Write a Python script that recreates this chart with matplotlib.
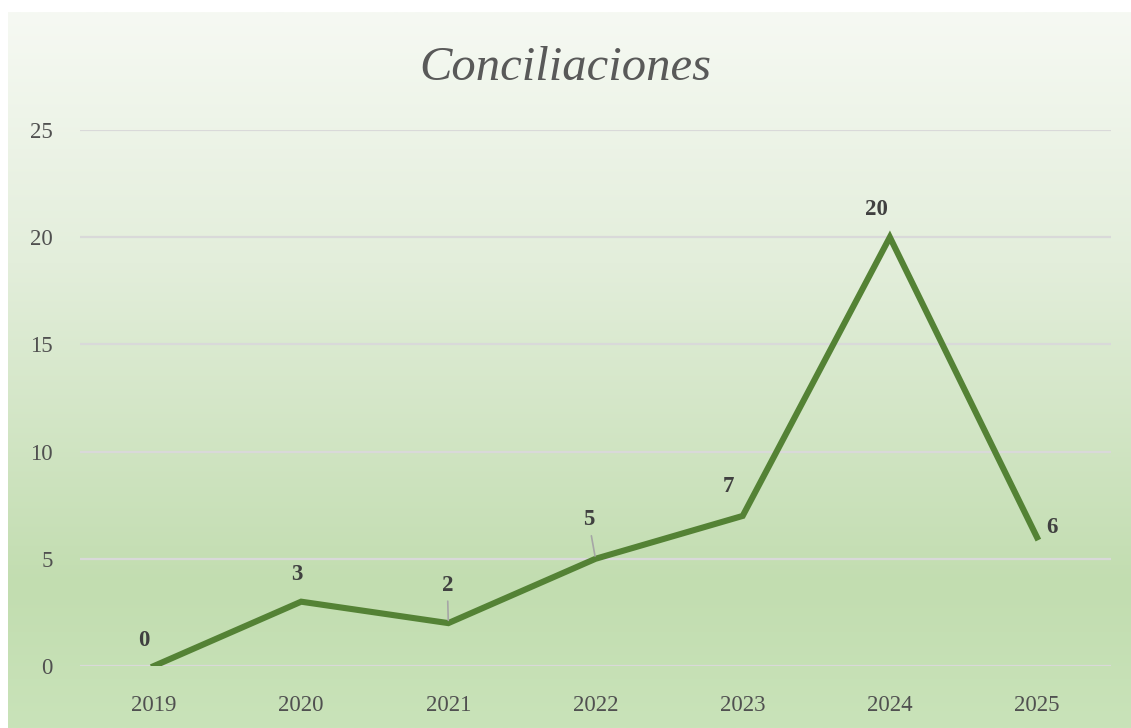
import numpy as np
from matplotlib import pyplot as plt
from matplotlib.colors import LinearSegmentedColormap

# Data
years = ["2019", "2020", "2021", "2022", "2023", "2024", "2025"]
values = [0, 3, 2, 5, 7, 20, 6]
# label offsets in pixels (dx, dy) relative to each point
label_offsets = [(-10, 26), (-4, 27), (-1, 38), (-7, 39), (-14, 29), (-13, 28), (15, 10)]
leader = [False, False, True, True, False, False, False]

W, H = 1131, 728
fig = plt.figure(figsize=(W / 100, H / 100), dpi=100)
fig.patch.set_facecolor("white")

# gradient background of chart area
bg = fig.add_axes([8 / W, 0, 1 - 8 / W, 1 - 12 / H])
cmap = LinearSegmentedColormap.from_list(
    "g", [(0.0, "#f6f9f3"), (0.35, "#e3eedb"), (0.8, "#c2ddb0"), (1.0, "#c9e3b9")])
grad = np.linspace(0, 1, 256).reshape(-1, 1)
bg.imshow(grad, aspect="auto", cmap=cmap, extent=[0, 1, 1, 0])
bg.set_axis_off()

ax = fig.add_axes([80.4 / W, 1 - 666 / H, 1030.2 / W, 536 / H])
ax.patch.set_alpha(0)
x = np.arange(len(years))
ax.plot(x, values, color="#548235", lw=4.4, solid_joinstyle="miter", zorder=3)

ax.set_xlim(-0.5, len(years) - 0.5)
ax.set_ylim(0, 25)
ax.set_yticks([0, 5, 10, 15, 20, 25])
ax.set_xticks(x)
ax.set_xticklabels(years)
ax.grid(axis="y", color="#d9d9d9", lw=1.6)
ax.set_axisbelow(True)
for s in ax.spines.values():
    s.set_visible(False)
ax.tick_params(length=0, labelsize=16.5, labelcolor="#505050")
ax.tick_params(axis="x", pad=21)
ax.tick_params(axis="y", pad=20)
for lab in ax.get_xticklabels() + ax.get_yticklabels():
    lab.set_family("Liberation Serif")

for i, v in enumerate(values):
    dx, dy = label_offsets[i]
    ap = None
    if leader[i]:
        ap = dict(arrowstyle="-", color="#a6a6a6", lw=1.2, shrinkA=2, shrinkB=2)
    ax.annotate(str(v), (i, v), xytext=(dx, dy), textcoords="offset pixels",
                ha="center", va="center", fontsize=16.5, fontweight="bold",
                color="#404040", family="Liberation Serif", arrowprops=ap)

fig.text(0.5, 1 - 68 / H, "Conciliaciones", ha="center", va="center",
         fontsize=35, style="italic", color="#595959", family="Liberation Serif")

fig.savefig("out.png", dpi=100)
